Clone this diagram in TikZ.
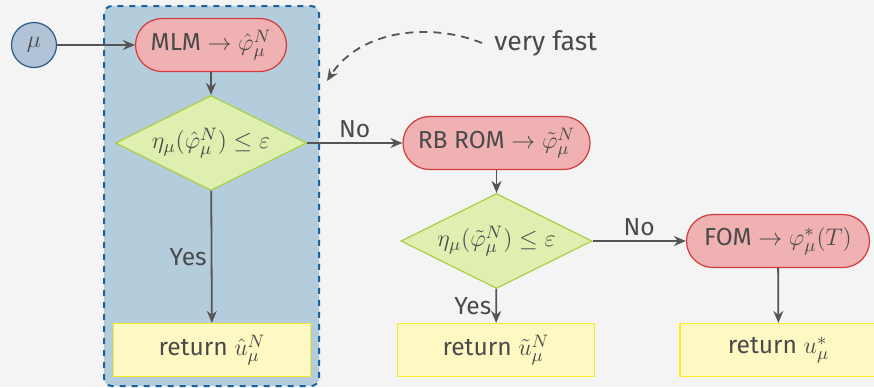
\documentclass[tikz,border=0pt]{standalone}
\usepackage{fontspec}
\setmainfont{Fira Sans}
\usepackage{amsmath}
\usepackage{amssymb}
\usetikzlibrary{shapes.geometric,arrows.meta}

\definecolor{bggray}{HTML}{F4F4F4}
\definecolor{txtgray}{HTML}{4A4A4A}
\definecolor{arrgray}{HTML}{555555}
\definecolor{zonefill}{HTML}{B4CDDC}
\definecolor{zonedraw}{HTML}{1C6199}
\definecolor{parfill}{HTML}{B1C3D6}
\definecolor{pardraw}{HTML}{2A5A8A}
\definecolor{redfill}{HTML}{EFB1B1}
\definecolor{reddraw}{HTML}{D33B3B}
\definecolor{greenfill}{HTML}{DFEFB0}
\definecolor{greendraw}{HTML}{A8D040}
\definecolor{yelfill}{HTML}{FEF9C2}
\definecolor{yeldraw}{HTML}{F6EC1F}

\tikzset{
  solver/.style={rectangle, rounded corners=13.25pt, draw=reddraw, fill=redfill, line width=0.6pt,
    minimum height=26.5pt, inner sep=0pt, text=txtgray},
  check/.style={diamond, shape aspect=2, draw=greendraw, fill=greenfill, line width=0.6pt,
    minimum width=95.5pt, minimum height=47.5pt, inner sep=0pt, text=txtgray},
  result/.style={rectangle, draw=yeldraw, fill=yelfill, line width=0.6pt,
    minimum width=98.5pt, minimum height=26.5pt, text=txtgray},
  flow/.style={draw=arrgray, line width=0.9pt, -{Stealth[length=6pt,width=5pt]}},
  lbl/.style={text=txtgray, inner sep=2pt}
}

\begin{document}
\begin{tikzpicture}[x=0.5pt,y=-0.5pt,font=\fontsize{12.3}{14}\selectfont]
  \useasboundingbox[fill=bggray] (0,0) rectangle (874,387);

  % fast zone
  \draw[fill=zonefill, draw=zonedraw, line width=1pt, dash pattern=on 3pt off 3pt,
    rounded corners=4pt] (104,6) rectangle (319,386);

  % nodes
  \node[circle, draw=pardraw, fill=parfill, line width=0.6pt, minimum size=22.5pt,
    inner sep=0pt, text=txtgray] (mu) at (34,45) {$\mu$};
  \node[solver, minimum width=75.5pt] (mlm) at (211,45) {MLM $\to \hat{\varphi}_\mu^N$};
  \node[check] (chk1) at (211,143) {$\eta_\mu(\hat{\varphi}_\mu^N) \leq \varepsilon$};
  \node[result] (ret1) at (212,350) {return $\hat{u}_\mu^N$};

  \node[solver, minimum width=93.5pt] (rom) at (496.5,143) {RB ROM $\to \tilde{\varphi}_\mu^N$};
  \node[check] (chk2) at (496.5,241) {$\eta_\mu(\tilde{\varphi}_\mu^N) \leq \varepsilon$};
  \node[result] (ret2) at (496,350) {return $\tilde{u}_\mu^N$};

  \node[solver, minimum width=91.5pt] (fom) at (778,241) {FOM $\to \varphi_\mu^*(T)$};
  \node[result] (ret3) at (778.5,350) {return $u_\mu^*$};

  \node[lbl, anchor=west] (fast) at (490,43) {\fontsize{13.3}{15}\selectfont very fast};
  \coordinate (start) at (482,43);
  \coordinate (zone) at (327,81);

  % connectors
  \draw[flow] (mu) -- (mlm);
  \draw[flow] (mlm) -- (chk1);
  \draw[flow] (chk1) -- node[lbl, left] {Yes} (ret1);
  \draw[flow] (chk1) -- node[lbl, above] {No} (rom);
  \draw[flow] (rom) -- (chk2);
  \draw[flow] (chk2) -- node[lbl, left] {Yes} (ret2);
  \draw[flow] (chk2) -- node[lbl, above] {No} (fom);
  \draw[flow] (fom) -- (ret3);
  \draw[flow, dash pattern=on 4pt off 3pt] (start) .. controls (430,22) and (360,30) .. (zone);
\end{tikzpicture}
\end{document}
